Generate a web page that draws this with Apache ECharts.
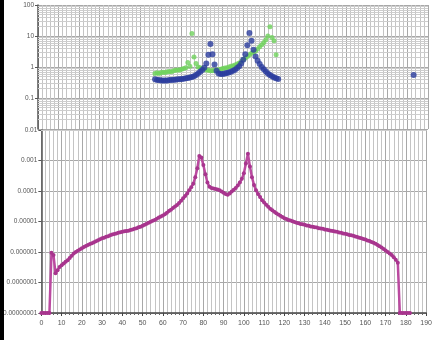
<!DOCTYPE html>
<html><head><meta charset="utf-8">
<script src="https://cdn.jsdelivr.net/npm/echarts@6/dist/echarts.min.js"></script>
<style>html,body{margin:0;padding:0;background:#fff}#c{width:435px;height:340px}</style>
</head><body><div id="c"></div>
<script>
// ---- data ----
const xTickLabels = ['0','10','20','30','40','50','60','70','80','90','100','110','120','130','140','150','160','170','180','190'];
const topTickLabels = ['0.01','0.1','1','10','100'];
const bottomTickLabels = ['0.00000001','0.0000001','0.000001','0.00001','0.0001','0.001','0.01'];

const blueX = [57,58,59,60,61,62,63,64,65,66,67,68,69,70,71,72,73,74,75,76,77,78,79,80,81,82,83,84,85,86,87,88,89,90,91,92,93,94,95,96,97,98,99,100,101,102,103,104,105,106,107,108,109,110,111,112,113,114,115,116,117,183];
const blueY = [0.40,0.38,0.38,0.37,0.37,0.37,0.37,0.38,0.38,0.39,0.39,0.40,0.40,0.41,0.42,0.43,0.44,0.46,0.48,0.50,0.55,0.62,0.70,0.80,0.95,1.3,2.5,5.5,2.6,1.2,0.75,0.62,0.60,0.60,0.62,0.64,0.67,0.70,0.75,0.82,0.92,1.05,1.3,1.7,2.6,5.0,12.5,7.0,3.6,2.2,1.6,1.25,1.0,0.85,0.72,0.62,0.55,0.50,0.46,0.43,0.41,0.55];

const greenX = [57,58,59,60,61,62,63,64,65,66,67,68,69,70,71,72,73,74,75,76,77,78,79,80,81,82,83,84,85,86,87,88,89,90,91,92,93,94,95,96,97,98,99,100,101,102,103,104,105,106,107,108,109,110,111,112,113,114,115,116];
const greenY = [0.62,0.65,0.62,0.66,0.68,0.66,0.70,0.72,0.70,0.75,0.78,0.80,0.80,0.85,0.90,0.95,1.4,1.05,12,2.1,1.3,1.0,0.95,0.90,0.85,0.80,0.78,0.75,0.75,0.78,0.80,0.82,0.85,0.90,0.92,0.95,1.0,1.05,1.1,1.15,1.25,1.35,1.5,1.7,1.95,2.2,2.5,2.8,3.0,3.3,3.8,4.5,5.2,6.2,7.5,10,20,9,7,2.5];

const pinkX = [0,1,2,3,4,5,6,7,8,9,10,11,12,13,14,15,16,17,18,19,20,21,22,23,24,25,26,27,28,29,30,31,32,33,34,35,36,37,38,39,40,41,42,43,44,45,46,47,48,49,50,51,52,53,54,55,56,57,58,59,60,61,62,63,64,65,66,67,68,69,70,71,72,73,74,75,76,77,78,79,80,81,82,83,84,85,86,87,88,89,90,91,92,93,94,95,96,97,98,99,100,101,102,103,104,105,106,107,108,109,110,111,112,113,114,115,116,117,118,119,120,121,122,123,124,125,126,127,128,129,130,131,132,133,134,135,136,137,138,139,140,141,142,143,144,145,146,147,148,149,150,151,152,153,154,155,156,157,158,159,160,161,162,163,164,165,166,167,168,169,170,171,172,173,174,175,176,177,178,179,180,181,182];
const pinkY = [1e-8,1e-8,1e-8,1e-8,1e-8,
9.5e-7,7.9e-7,2.0e-7,2.5e-7,3.2e-7,3.7e-7,4.2e-7,4.8e-7,5.4e-7,6.3e-7,7.6e-7,8.9e-7,1.0e-6,1.10e-6,1.20e-6,
1.32e-6,1.45e-6,1.58e-6,1.70e-6,1.82e-6,1.95e-6,2.09e-6,2.24e-6,2.45e-6,2.63e-6,
2.82e-6,2.95e-6,3.16e-6,3.31e-6,3.55e-6,3.72e-6,3.89e-6,4.07e-6,4.27e-6,4.47e-6,
4.57e-6,4.79e-6,4.90e-6,5.01e-6,5.25e-6,5.50e-6,5.75e-6,6.03e-6,6.46e-6,6.76e-6,
7.24e-6,7.76e-6,8.51e-6,9.12e-6,9.77e-6,1.05e-5,1.12e-5,1.23e-5,1.35e-5,1.45e-5,
1.58e-5,1.74e-5,1.95e-5,2.19e-5,2.45e-5,2.75e-5,3.09e-5,3.47e-5,4.07e-5,4.79e-5,
5.75e-5,6.92e-5,8.32e-5,1.05e-4,1.32e-4,1.74e-4,2.82e-4,5.62e-4,1.41e-3,1.26e-3,
7.08e-4,3.55e-4,1.91e-4,1.38e-4,1.26e-4,1.20e-4,1.17e-4,1.12e-4,1.05e-4,9.55e-5,
8.71e-5,7.94e-5,7.59e-5,8.32e-5,9.55e-5,1.10e-4,1.26e-4,1.51e-4,1.91e-4,2.51e-4,
3.80e-4,7.94e-4,1.66e-3,6.31e-4,2.82e-4,1.58e-4,1.05e-4,7.94e-5,6.31e-5,5.01e-5,
4.17e-5,3.55e-5,3.02e-5,2.63e-5,2.34e-5,2.09e-5,1.86e-5,1.70e-5,1.55e-5,1.41e-5,
1.29e-5,1.20e-5,1.12e-5,1.07e-5,1.02e-5,9.55e-6,9.12e-6,8.71e-6,8.32e-6,8.13e-6,
7.76e-6,7.41e-6,7.24e-6,6.92e-6,6.76e-6,6.46e-6,6.31e-6,6.03e-6,5.89e-6,5.75e-6,
5.50e-6,5.37e-6,5.13e-6,5.01e-6,4.90e-6,4.68e-6,4.57e-6,4.37e-6,4.27e-6,4.07e-6,
3.98e-6,3.80e-6,3.63e-6,3.55e-6,3.39e-6,3.24e-6,3.09e-6,2.95e-6,2.82e-6,2.69e-6,
2.57e-6,2.40e-6,2.29e-6,2.14e-6,2.00e-6,1.86e-6,1.70e-6,1.55e-6,1.41e-6,1.26e-6,
1.12e-6,1.00e-6,8.91e-7,7.94e-7,6.76e-7,5.62e-7,4.47e-7,1e-8,1e-8,1e-8,1e-8,1e-8,1e-8];

// ---- helpers ----
const zip = (xs, ys) => xs.map((x, i) => [x, ys[i]]);
function minorLogLines(loExp, hiExp) {
  const out = [];
  for (let e = loExp; e < hiExp; e++) {
    for (let k = 2; k <= 9; k++) out.push({ yAxis: k * Math.pow(10, e) });
  }
  return out;
}
function decLabel(v) {
  const e = Math.round(Math.log10(v));
  if (e >= 0) return String(Math.round(Math.pow(10, e)));
  return '0.' + '0'.repeat(-e - 1) + '1';
}
const FONT = 'Liberation Sans';
const labelColor = '#555';
const minorGrid = { show: true, lineStyle: { color: '#c4c4c4', width: 1 } };

const xAxisBase = (gi, showLabels) => ({
  type: 'value', gridIndex: gi, min: 0, max: 190, interval: 10,
  axisLine: { show: showLabels, onZero: false, lineStyle: { color: '#444', width: 1.5 } },
  axisTick: { show: showLabels, length: 3, lineStyle: { color: '#444' } },
  minorTick: { show: showLabels, splitNumber: 5, length: 2, lineStyle: { color: '#666' } },
  axisLabel: { show: showLabels, fontSize: 7, color: labelColor, fontFamily: FONT, margin: 7,
    formatter: (v) => xTickLabels[Math.round(v / 10)] },
  splitLine: { show: true, lineStyle: { color: '#a8a8a8', width: 1 } },
  minorSplitLine: minorGrid
});
const yAxisBase = (gi, min, max, n, showMin) => ({
  type: 'log', logBase: 10, gridIndex: gi, min: min, max: max, splitNumber: n,
  axisLine: { show: true, lineStyle: { color: '#555', width: 1.5 } },
  axisTick: { show: true, length: 3, lineStyle: { color: '#555' } },
  axisLabel: { fontSize: 6.5, color: labelColor, fontFamily: FONT, margin: 4, showMinLabel: showMin,
    formatter: decLabel },
  splitLine: { show: true, lineStyle: { color: '#a8a8a8', width: 1 } }
});

const gridLineSeries = (xi, yi, lo, hi) => ({
  type: 'line', xAxisIndex: xi, yAxisIndex: yi, data: [], z: 1, silent: true,
  markLine: { silent: true, z: 1, symbol: 'none', animation: false, label: { show: false },
    lineStyle: { color: '#cdcdcd', width: 1, type: 'solid' }, data: minorLogLines(lo, hi) }
});

const chart = echarts.init(document.getElementById('c'), null, { renderer: 'canvas' });
chart.setOption({
  animation: false,
  backgroundColor: '#fff',
  grid: [
    { left: 38, right: 7, top: 5, height: 124 },
    { left: 38, right: 7, top: 130, height: 183 }
  ],
  xAxis: [xAxisBase(0, false), xAxisBase(1, true)],
  yAxis: [yAxisBase(0, 0.01, 100, 4, false), yAxisBase(1, 1e-8, 0.01, 6, true)],
  graphic: [{ type: 'rect', left: 0, top: 0, shape: { width: 4, height: 340 }, style: { fill: '#000' }, z: 100 }],
  series: [
    gridLineSeries(0, 0, -2, 2),
    gridLineSeries(1, 1, -8, -2),
    { name: 'green', type: 'scatter', xAxisIndex: 0, yAxisIndex: 0, z: 6,
      data: zip(greenX, greenY), symbol: 'circle', symbolSize: 5,
      itemStyle: { color: '#6fd25c' } },
    { name: 'blue', type: 'scatter', xAxisIndex: 0, yAxisIndex: 0, z: 7,
      data: zip(blueX, blueY), symbol: 'circle', symbolSize: 6,
      itemStyle: { color: '#2a3c9e' } },
    { name: 'pink', type: 'line', xAxisIndex: 1, yAxisIndex: 1, z: 6,
      data: zip(pinkX, pinkY), symbol: 'circle', symbolSize: 4, showSymbol: true,
      lineStyle: { color: '#bb4aa0', width: 2.5 }, itemStyle: { color: '#a8358e' } }
  ]
});
</script>
</body></html>
